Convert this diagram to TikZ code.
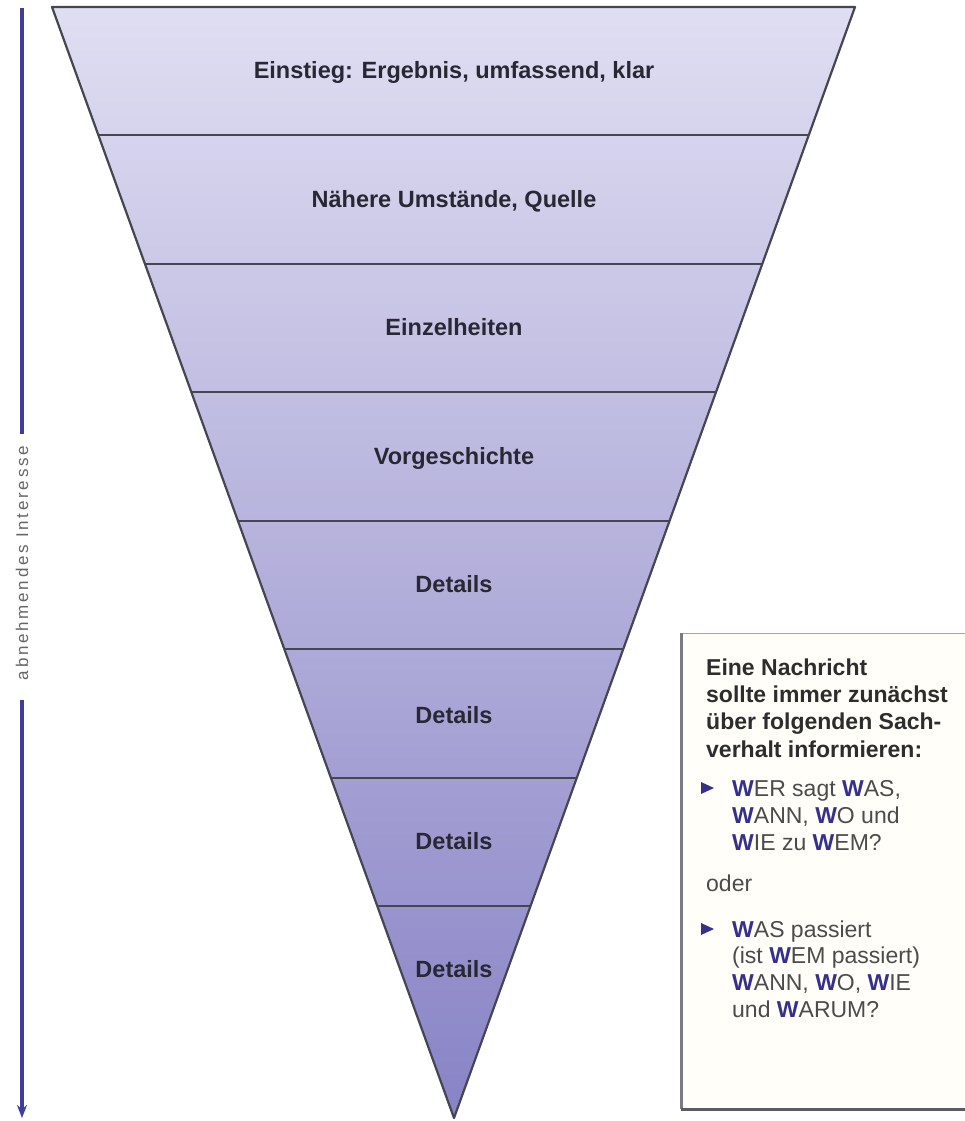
\documentclass[tikz,border=0pt]{standalone}
\usepackage{fontspec}
\setmainfont{Liberation Sans}
\newfontfamily\spacedfont[LetterSpace=16]{Liberation Sans}
\usetikzlibrary{arrows.meta,calc}
\definecolor{tritop}{RGB}{224,222,242}
\definecolor{tribot}{RGB}{136,131,197}
\definecolor{edgecol}{RGB}{70,70,82}
\definecolor{labelcol}{RGB}{40,40,52}
\definecolor{arrowblue}{RGB}{66,62,152}
\definecolor{wblue}{RGB}{52,48,140}
\definecolor{headcol}{RGB}{45,45,45}
\definecolor{textcol}{RGB}{75,75,75}
\definecolor{boxfill}{RGB}{255,254,248}
\definecolor{sidegray}{RGB}{90,90,100}
\newcommand\BW{\textcolor{wblue}{\bfseries W}}
\tikzset{
  bandline/.style={draw=edgecol, line width=2.2pt},
  outline/.style={draw=edgecol, line width=2.2pt, line join=round},
  lbl/.style={anchor=base, inner sep=0pt, text=labelcol, font=\fontsize{23.5}{27}\selectfont\bfseries},
  headline/.style={anchor=base west, inner sep=0pt, text=headcol, font=\fontsize{23}{27}\selectfont\bfseries},
  txtline/.style={anchor=base west, inner sep=0pt, text=textcol, font=\fontsize{23}{27}\selectfont},
  bullet/.style={fill=wblue},
  infobox/.style={draw=gray!70, line width=1pt, fill=boxfill, anchor=north west, inner sep=0pt},
  arrowline/.style={draw=arrowblue, line width=3.4pt},
}
\begin{document}
\begin{tikzpicture}[x=1pt,y=-1pt]
\useasboundingbox (0,0) rectangle (965,1121);
% triangle
\coordinate (TL) at (52,7);
\coordinate (TR) at (855,7);
\coordinate (AP) at (454,1118);
\shade[top color=tritop, bottom color=tribot] (TL) -- (TR) -- (AP) -- cycle;
\foreach \yy in {135,264,392,521,649,778,906} {
  \draw[bandline] ($(TL)!{(\yy-7)/1111}!(AP)$) -- ($(TR)!{(\yy-7)/1111}!(AP)$);
}
\draw[outline] (TL) -- (TR) -- (AP) -- cycle;
% labels
\node[lbl] (l1) at (454,79) {Einstieg: Ergebnis, umfassend, klar};
\node[lbl] (l2) at (454,207) {Nähere Umstände, Quelle};
\node[lbl] (l3) at (454,335) {Einzelheiten};
\node[lbl] (l4) at (454,464) {Vorgeschichte};
\node[lbl] (l5) at (454,592) {Details};
\node[lbl] (l6) at (454,723) {Details};
\node[lbl] (l7) at (454,849) {Details};
\node[lbl] (l8) at (454,977) {Details};
% left arrow
\coordinate (atop) at (22,8);
\coordinate (abot) at (22,1118);
\node[rotate=90, inner sep=0pt, text=gray!80!black, font=\spacedfont\fontsize{17}{20}\selectfont] (interest) at (22,563) {abnehmendes Interesse};
\draw[arrowline] (atop) -- ($(interest.east)+(0,-12)$);
\draw[arrowline, -{Stealth[length=13pt,width=10pt]}] ($(interest.west)+(0,20)$) -- (abot);
% info box
\node[infobox, minimum width=292pt, minimum height=475pt] (box) at (681,633) {};
\draw[sidegray!80, line width=3pt] (box.north west) -- (box.south west);
\draw[sidegray, line width=3pt] (box.south west) -- (box.south east);
\node[headline] (h1) at (706,675) {Eine Nachricht};
\node[headline] (h2) at (706,702) {sollte immer zunächst};
\node[headline] (h3) at (706,729) {über folgenden Sach-};
\node[headline] (h4) at (706,757) {verhalt informieren:};
\fill[bullet] (701,782) -- (714,788) -- (701,794) -- cycle;
\node[txtline] (b1) at (732,796) {\BW{}ER sagt \BW{}AS,};
\node[txtline] (b2) at (732,823) {\BW{}ANN, \BW{}O und};
\node[txtline] (b3) at (732,850) {\BW{}IE zu \BW{}EM?};
\node[txtline] (oder) at (706,891) {oder};
\fill[bullet] (701,923) -- (714,929) -- (701,935) -- cycle;
\node[txtline] (c1) at (732,937) {\BW{}AS passiert};
\node[txtline] (c2) at (732,963) {(ist \BW{}EM passiert)};
\node[txtline] (c3) at (732,990) {\BW{}ANN, \BW{}O, \BW{}IE};
\node[txtline] (c4) at (732,1017) {und \BW{}ARUM?};
\end{tikzpicture}
\end{document}
